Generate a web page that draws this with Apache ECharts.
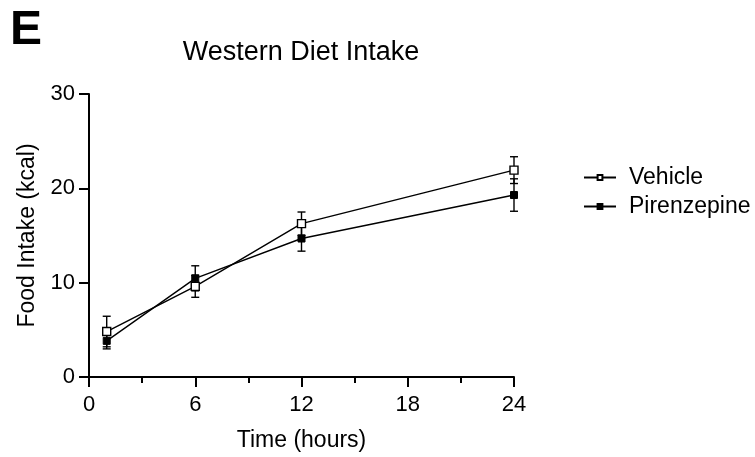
<!DOCTYPE html>
<html>
<head>
<meta charset="utf-8">
<script src="https://cdn.jsdelivr.net/npm/echarts@6/dist/echarts.min.js"></script>
<style>html,body{margin:0;padding:0;background:#fff}#c{width:755px;height:457px}</style>
</head>
<body>
<div id="c"></div>
<script>
const timePoints = [1, 6, 12, 24];
const vehicleMean = [4.82, 9.61, 16.26, 21.93];
const vehicleSem = [1.62, 1.16, 1.23, 1.42];
const pirenzepineMean = [3.83, 10.46, 14.68, 19.29];
const pirenzepineSem = [0.85, 1.33, 1.34, 1.72];
const xTicks = [0, 6, 12, 18, 24];
const yTicks = [0, 10, 20, 30];

const FONT = 'Liberation Sans, Arial, Helvetica, sans-serif';

function pairs(xs, ys) { return xs.map((x, i) => [x, ys[i]]); }
function errData(xs, m, s) { return xs.map((x, i) => [x, m[i] - s[i], m[i] + s[i]]); }

function errRender(params, api) {
  const x = api.value(0);
  const lo = api.coord([x, api.value(1)]);
  const hi = api.coord([x, api.value(2)]);
  const hw = 4;
  const st = { stroke: '#000', lineWidth: 1.4 };
  return {
    type: 'group',
    children: [
      { type: 'line', shape: { x1: lo[0], y1: lo[1], x2: hi[0], y2: hi[1] }, style: st },
      { type: 'line', shape: { x1: lo[0] - hw, y1: lo[1], x2: lo[0] + hw, y2: lo[1] }, style: st },
      { type: 'line', shape: { x1: hi[0] - hw, y1: hi[1], x2: hi[0] + hw, y2: hi[1] }, style: st }
    ]
  };
}

const chart = echarts.init(document.getElementById('c'), null, { renderer: 'canvas' });
chart.setOption({
  animation: false,
  backgroundColor: '#fff',
  textStyle: { fontFamily: FONT, color: '#000' },
  graphic: [
    { type: 'text', left: 10, top: 7, style: { text: 'E', font: 'bold 48px ' + FONT, fill: '#000' } },
    { type: 'text', x: 301, y: 53, style: { text: 'Western Diet Intake', font: '27px ' + FONT, fill: '#000', textAlign: 'center', textVerticalAlign: 'middle' } }
  ],
  grid: { left: 89, right: 241, top: 94, bottom: 79 },
  legend: {
    orient: 'vertical', left: 578, top: 161, itemGap: 6, itemWidth: 32, itemHeight: 6,
    textStyle: { fontSize: 23, color: '#000', fontFamily: FONT, padding: [0, 0, 0, 8] },
    data: ['Vehicle', 'Pirenzepine']
  },
  xAxis: {
    type: 'value', min: 0, max: 24, interval: 6,
    name: 'Time (hours)', nameLocation: 'middle', nameGap: 52,
    nameTextStyle: { fontSize: 23, color: '#000', fontFamily: FONT },
    axisLine: { show: true, lineStyle: { color: '#000', width: 2 } },
    axisTick: { show: true, length: 10, lineStyle: { color: '#000', width: 2 } },
    minorTick: { show: true, splitNumber: 2, length: 6, lineStyle: { color: '#000', width: 2 } },
    axisLabel: { fontSize: 22, color: '#000', margin: 17, fontFamily: FONT },
    splitLine: { show: false }, minorSplitLine: { show: false }
  },
  yAxis: {
    type: 'value', min: 0, max: 30, interval: 10,
    name: 'Food Intake (kcal)', nameLocation: 'middle', nameGap: 50,
    nameTextStyle: { fontSize: 23, color: '#000', fontFamily: FONT },
    axisLine: { show: true, lineStyle: { color: '#000', width: 2 } },
    axisTick: { show: true, length: 10, lineStyle: { color: '#000', width: 2 } },
    axisLabel: { fontSize: 22, color: '#000', margin: 14, fontFamily: FONT },
    splitLine: { show: false }
  },
  series: [
    { name: 'VehicleErr', type: 'custom', renderItem: errRender, data: errData(timePoints, vehicleMean, vehicleSem), z: 1, silent: true },
    { name: 'PirErr', type: 'custom', renderItem: errRender, data: errData(timePoints, pirenzepineMean, pirenzepineSem), z: 1, silent: true },
    {
      name: 'Vehicle', type: 'line', data: pairs(timePoints, vehicleMean),
      symbol: 'rect', symbolSize: 8, showAllSymbol: true, z: 3,
      lineStyle: { color: '#000', width: 1.4 },
      itemStyle: { color: '#fff', borderColor: '#000', borderWidth: 1.4 }
    },
    {
      name: 'Pirenzepine', type: 'line', data: pairs(timePoints, pirenzepineMean),
      symbol: 'rect', symbolSize: 7, showAllSymbol: true, z: 3,
      lineStyle: { color: '#000', width: 1.4 },
      itemStyle: { color: '#000', borderColor: '#000', borderWidth: 1 }
    }
  ]
});
</script>
</body>
</html>
